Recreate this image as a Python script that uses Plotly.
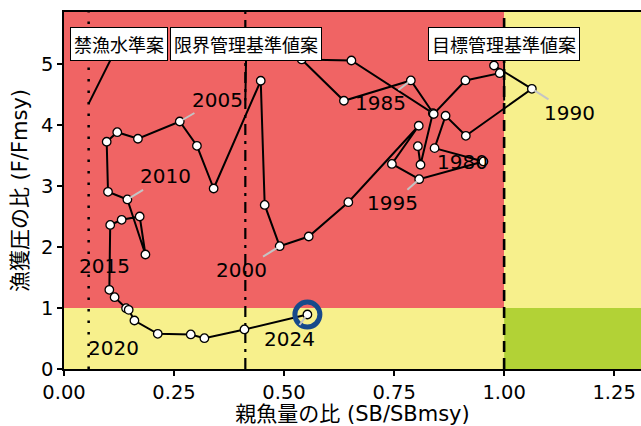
import plotly.graph_objects as go

# Kobe plot: spawning biomass ratio vs. fishing pressure ratio, 1979-2024
years = list(range(1979, 2025))
sb_ratio = [
    0.804, 0.810, 0.838, 0.653, 0.540, 0.636, 0.788, 0.840, 0.912, 0.990,
    0.977, 1.063, 0.913, 0.867, 0.842, 0.953, 0.807, 0.745, 0.806, 0.646,
    0.556, 0.490, 0.456, 0.447, 0.340, 0.302, 0.263, 0.168, 0.121, 0.097,
    0.100, 0.144, 0.185, 0.172, 0.131, 0.105, 0.103, 0.115, 0.141, 0.147,
    0.160, 0.213, 0.288, 0.319, 0.410, 0.553,
]
f_ratio = [
    3.652, 3.348, 4.193, 5.057, 5.074, 4.397, 4.730, 4.180, 4.730, 4.849,
    4.975, 4.593, 3.823, 4.151, 3.620, 3.402, 3.111, 3.361, 3.987, 2.734,
    2.172, 2.013, 2.689, 4.725, 2.959, 3.659, 4.057, 3.774, 3.882, 3.725,
    2.905, 2.779, 1.877, 2.500, 2.446, 2.361, 1.298, 1.177, 0.997, 0.970,
    0.795, 0.577, 0.566, 0.505, 0.648, 0.893,
]

# Reference points (SB/SBmsy)
ban_level = 0.056      # 禁漁水準案
limit_ref = 0.412      # 限界管理基準値案
target_ref = 1.0       # 目標管理基準値案
ref_names = ["禁漁水準案", "限界管理基準値案", "目標管理基準値案"]
ref_values = [ban_level, limit_ref, target_ref]

x_max, y_max = 1.311, 5.852

RED = "#F06464"
YELLOW = "#F7F08C"
GREEN = "#B2D236"

fig = go.Figure()

# background zones split at SB/SBmsy = 1 and F/Fmsy = 1
zones = [
    (0, target_ref, 1, y_max, RED),
    (0, target_ref, 0, 1, YELLOW),
    (target_ref, x_max, 1, y_max, YELLOW),
    (target_ref, x_max, 0, 1, GREEN),
]
for x0, x1, y0, y1, col in zones:
    fig.add_shape(type="rect", x0=x0, x1=x1, y0=y0, y1=y1, xref="x", yref="y",
                  fillcolor=col, line=dict(width=0), layer="below")

# reference lines
ref_dash = ["2.5px,9px", "11px,6px,3px,6px", "11px,6px"]
ref_width = [2.5, 2.2, 2.6]
for v, d, w in zip(ref_values, ref_dash, ref_width):
    fig.add_shape(type="line", x0=v, x1=v, y0=0, y1=y_max, xref="x", yref="y",
                  line=dict(color="black", width=w, dash=d), layer="below")

# trajectory
fig.add_trace(go.Scatter(
    x=sb_ratio, y=f_ratio, mode="lines+markers",
    line=dict(color="black", width=2),
    marker=dict(size=8.5, color="white", line=dict(color="black", width=1.3)),
    hoverinfo="skip", showlegend=False,
))

# latest year highlight
fig.add_trace(go.Scatter(
    x=[sb_ratio[-1]], y=[f_ratio[-1]], mode="markers",
    marker=dict(symbol="circle-open", size=25, color="#174A8B",
                line=dict(color="#174A8B", width=5)),
    hoverinfo="skip", showlegend=False,
))

# year labels: (dx, dy) pixel offset of label from point, and whether a leader is drawn
label_style = {
    1980: (42, -3, False),
    1985: (-30, 23, True),
    1990: (38, 24, True),
    1995: (-27, 24, True),
    2000: (-38, 24, True),
    2005: (38, -22, True),
    2010: (38, -23, True),
    2015: (-5, -24, False),
    2020: (-44, 14, False),
    2024: (-18, 24, True),
}
for yr, (dx, dy, leader) in label_style.items():
    i = years.index(yr)
    fig.add_annotation(
        x=sb_ratio[i], y=f_ratio[i], text=str(yr), ax=dx, ay=dy,
        showarrow=True, arrowhead=0, arrowwidth=2, standoff=3,
        arrowcolor="#C4C4C4" if leader else "rgba(0,0,0,0)",
        font=dict(family="DejaVu Sans", size=20, color="black"),
    )

# reference point labels in boxes
ref_label_y = [4.35, 4.40, 4.40]
ref_label_off = [(30, -60), (1, -57), (0, -57)]
for name, v, ly, (dx, dy) in zip(ref_names, ref_values, ref_label_y, ref_label_off):
    fig.add_annotation(
        x=v, y=ly, text=name, ax=dx, ay=dy,
        showarrow=True, arrowhead=0, arrowwidth=2, arrowcolor="black", standoff=0,
        bgcolor="white", bordercolor="black", borderwidth=1, borderpad=3,
        font=dict(family="Noto Sans CJK JP", size=18, color="black"),
    )

axis_font = dict(family="DejaVu Sans", size=19.5, color="black")
title_font = dict(family="DejaVu Sans, Noto Sans CJK JP", size=21, color="black")

fig.update_xaxes(
    range=[0, x_max], tickvals=[0, 0.25, 0.5, 0.75, 1.0, 1.25],
    ticktext=["0.00", "0.25", "0.50", "0.75", "1.00", "1.25"],
    ticks="outside", ticklen=5, tickwidth=1.5, tickcolor="black",
    showline=True, linecolor="black", linewidth=1.5, mirror=True,
    showgrid=False, zeroline=False, tickfont=axis_font, automargin=False,
    title=dict(text="親魚量の比 (SB/SBmsy)", font=title_font, standoff=9),
)
fig.update_yaxes(
    range=[0, y_max], tickvals=[0, 1, 2, 3, 4, 5],
    ticks="outside", ticklen=5, tickwidth=1.5, tickcolor="black",
    showline=True, linecolor="black", linewidth=1.5, mirror=False,
    showgrid=False, zeroline=False, tickfont=axis_font, automargin=False,
    title=dict(text="漁獲圧の比 (F/Fmsy)", font=title_font, standoff=8),
)

fig.update_layout(
    width=641, height=426,
    margin=dict(l=64, r=0, t=12, b=57),
    paper_bgcolor="white", plot_bgcolor="white",
    showlegend=False,
)

fig.write_html("out.html")
